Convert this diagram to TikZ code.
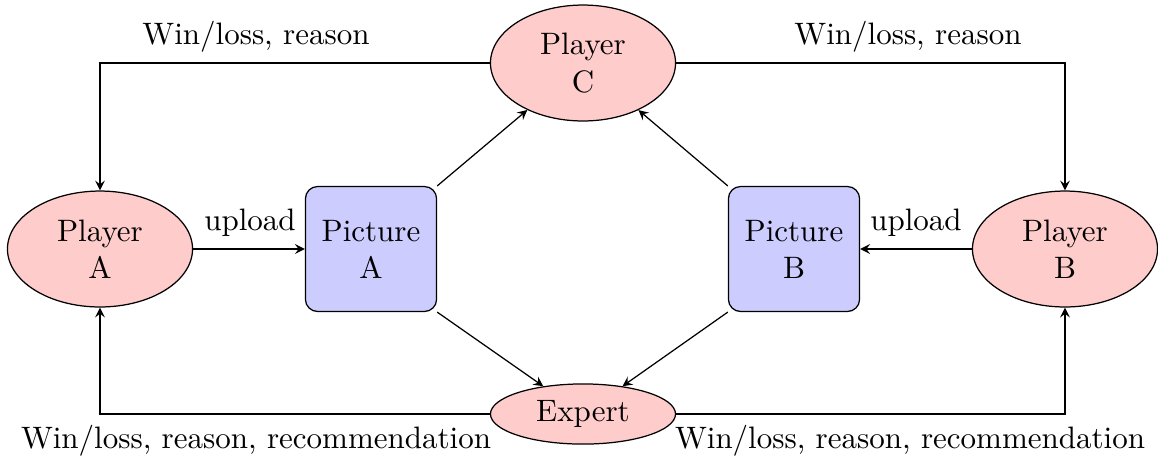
\documentclass[tikz,border=0pt]{standalone}
\usetikzlibrary{shapes.geometric,arrows.meta}
\begin{document}
\begin{tikzpicture}[x=0.32258pt,y=-0.32258pt,
  player/.style={ellipse,draw,fill=red!20,minimum width=59.7pt,minimum height=37.4pt,inner sep=0pt,align=center},
  picbox/.style={rectangle,rounded corners=3.9pt,draw,fill=blue!20,minimum width=42.3pt,minimum height=40.3pt,inner sep=0pt,align=center},
  arr/.style={-stealth},
  lbl/.style={inner sep=0pt}
]
\useasboundingbox (0,0) rectangle (1158,460);
\node[player] (A) at (100,249) {Player\\A};
\node[player] (B) at (1065,249) {Player\\B};
\node[player] (C) at (583,63) {Player\\C};
\node[player,minimum height=19.4pt] (E) at (583,414) {Expert};
\node[picbox] (PA) at (371,249) {Picture\\A};
\node[picbox] (PB) at (794,249) {Picture\\B};

\draw[arr] (A) -- (PA);
\draw[arr] (B) -- (PB);
\draw[arr] (PA.north east) -- (C);
\draw[arr] (PB.north west) -- (C);
\draw[arr] (PA.south east) -- (E);
\draw[arr] (PB.south west) -- (E);
\draw[arr] (C.west) -| (A.north);
\draw[arr] (C.east) -| (B.north);
\draw[arr] (E.west) -| (A.south);
\draw[arr] (E.east) -| (B.south);

\node[lbl] (u1) at (250,223) {upload};
\node[lbl] (u2) at (916,223) {upload};
\node[lbl] (w1) at (256,37) {Win/loss, reason};
\node[lbl] (w2) at (908,37) {Win/loss, reason};
\node[lbl] (w3) at (256,441) {Win/loss, reason, recommendation};
\node[lbl] (w4) at (910,441) {Win/loss, reason, recommendation};
\end{tikzpicture}
\end{document}
